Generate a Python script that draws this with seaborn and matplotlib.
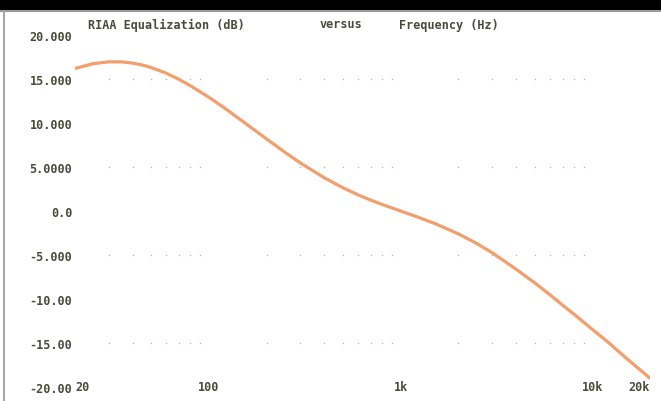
import matplotlib.pyplot as plt
import pandas as pd
import seaborn as sns
from matplotlib.lines import Line2D
from matplotlib.patches import Rectangle

# RIAA playback curve (with IEC low-cut)
freq_hz = [20, 25, 30, 35, 40, 45, 50, 60, 70, 80, 100, 120, 150, 200, 250, 300, 400,
           500, 600, 700, 800, 1000, 1200, 1500, 2000, 2500, 3000, 4000, 5000, 6000,
           7000, 8000, 10000, 12000, 15000, 20000]
gain_db = [16.20, 16.75, 16.95, 16.95, 16.80, 16.59, 16.30, 15.65, 14.94, 14.24, 12.92,
           11.73, 10.19, 8.18, 6.65, 5.46, 3.77, 2.64, 1.83, 1.23, 0.75, 0.0, -0.61,
           -1.40, -2.59, -3.70, -4.74, -6.61, -8.15, -9.50, -10.70, -11.70, -13.45,
           -14.85, -16.70, -19.00]

y_ticks = [-20, -15, -10, -5, 0, 5, 10, 15, 20]
y_labels = ["-20.00", "-15.00", "-10.00", "-5.000", "0.0", "5.0000", "10.000", "15.000", "20.000"]
x_ticks = [20, 100, 1000, 10000, 20000]
x_labels = ["20", "100", "1k", "10k", "20k"]

# faint leftover grid dots
dot_x = [30, 40, 50, 60, 70, 80, 90, 200, 300, 400, 500, 600, 700, 800, 900,
         2000, 3000, 4000, 5000, 6000, 7000, 8000, 9000]
dot_rows = [15, 5, -5, -15]

TXT = "#4a4a3c"
W, H = 661, 402

sns.set_theme(style="white")
plt.rcParams["font.family"] = ["DejaVu Sans Mono", "DejaVu Sans"]

fig = plt.figure(figsize=(W / 100, H / 100), dpi=100)
fig.patch.set_facecolor("white")

# screen frame
fig.patches.append(Rectangle((0, 1 - 10 / H), 1, 10 / H, transform=fig.transFigure,
                             color="black", zorder=0))
fig.lines.append(Line2D([0, 1], [1 - 12 / H] * 2, transform=fig.transFigure,
                        color="#9a9a9a", lw=1.5))
fig.lines.append(Line2D([4 / W] * 2, [0, 1 - 12 / H], transform=fig.transFigure,
                        color="#a8a8a8", lw=1.5))

ax = fig.add_axes([75 / W, 1 - 388 / H, (650 - 75) / W, (388 - 36) / H])
ax.set_facecolor("none")

dots = pd.DataFrame([(x, y) for y in dot_rows for x in dot_x], columns=["f", "db"])
ax.scatter(dots["f"], dots["db"], s=1.2, color="#bdb5a5", linewidths=0, zorder=1)

df = pd.DataFrame({"f": freq_hz, "db": gain_db})
sns.lineplot(data=df, x="f", y="db", ax=ax, color="#f39e6c", linewidth=2.3, zorder=2)

ax.set_xscale("log")
ax.set_xlim(20, 20000)
ax.set_ylim(-20, 20)
ax.minorticks_off()
for s in ax.spines.values():
    s.set_visible(False)

font = dict(family="DejaVu Sans Mono", weight="bold", size=8.5, color=TXT)
ax.set_yticks(y_ticks, y_labels, **font)
ax.set_xticks(x_ticks, x_labels, **font)
ax.tick_params(axis="y", length=0, pad=2)
ax.tick_params(axis="x", length=0, pad=-5)
xl = ax.get_xticklabels()
xl[0].set_ha("left")
xl[-1].set_ha("right")
ax.set_xlabel("")
ax.set_ylabel("")

fig.text(88 / W, 1 - 25 / H, "RIAA Equalization (dB)", ha="left", va="center", **font)
fig.text(320 / W, 1 - 25 / H, "versus", ha="left", va="center", **font)
fig.text(399 / W, 1 - 25 / H, "Frequency (Hz)", ha="left", va="center", **font)

fig.savefig("out.png", dpi=100)
